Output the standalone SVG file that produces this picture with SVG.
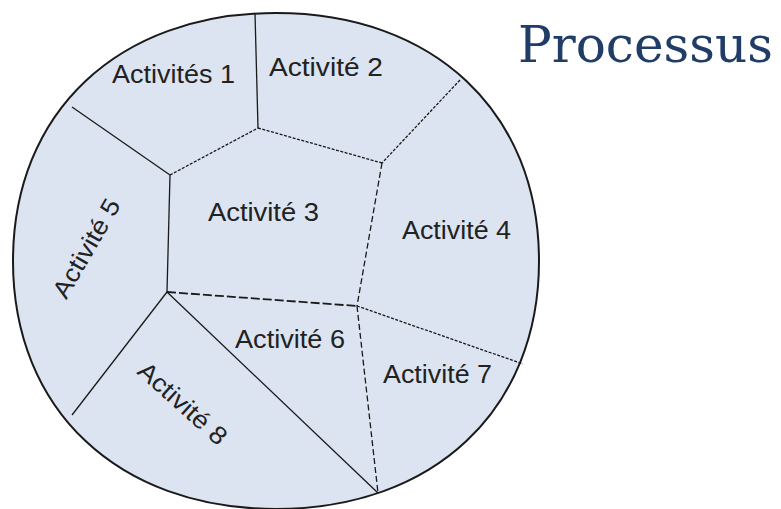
<svg xmlns="http://www.w3.org/2000/svg" width="781" height="509" viewBox="0 0 781 509">
<style>
.lbl{font-family:"Liberation Sans",Arial,sans-serif;font-size:25px;fill:#222}
.ln{stroke:#1a1a1a;stroke-width:1.3;fill:none}
.fine{stroke-dasharray:3 1.5}
.med{stroke-dasharray:6 3}
.long{stroke-dasharray:9 3;stroke-width:1.8}
.title{font-family:"DejaVu Serif","Liberation Serif",serif;font-size:51px;fill:#1f3d66}
</style>
<rect width="781" height="509" fill="#fff"/>
<g id="processus-circle">
<path d="M539,261 C539,409.8 433.8,509 276,509 C118.2,509 13,409.8 13,261 C13,112.2 118.2,13 276,13 C433.8,13 539,112.2 539,261 Z" fill="#dbe4f0" stroke="#1a1a1a" stroke-width="2"/>
</g>
<g id="connectors">
<line class="ln" x1="255" y1="13" x2="258" y2="128"/>
<line class="ln" x1="72" y1="107" x2="170" y2="175"/>
<line class="ln fine" x1="170" y1="175" x2="258" y2="128"/>
<line class="ln fine" x1="258" y1="128" x2="382" y2="163"/>
<line class="ln fine" x1="460" y1="80" x2="382" y2="163"/>
<line class="ln med" x1="382" y1="163" x2="357" y2="306"/>
<line class="ln" x1="170" y1="175" x2="167" y2="292"/>
<line class="ln long" x1="167" y1="292" x2="357" y2="306"/>
<line class="ln" x1="167" y1="292" x2="72" y2="415"/>
<line class="ln" x1="167" y1="292" x2="378" y2="493"/>
<line class="ln fine" x1="357" y1="306" x2="523" y2="364"/>
<line class="ln med" x1="357" y1="306" x2="378" y2="493"/>
</g>
<g id="activite-1"><text class="lbl" x="112" y="83" textLength="123" lengthAdjust="spacingAndGlyphs">Activités 1</text></g>
<g id="activite-2"><text class="lbl" x="269" y="76" textLength="114" lengthAdjust="spacingAndGlyphs">Activité 2</text></g>
<g id="activite-3"><text class="lbl" x="208" y="221" textLength="111" lengthAdjust="spacingAndGlyphs">Activité 3</text></g>
<g id="activite-4"><text class="lbl" x="402" y="239" textLength="109" lengthAdjust="spacingAndGlyphs">Activité 4</text></g>
<g id="activite-5"><text class="lbl" x="86" y="257" text-anchor="middle" textLength="110" lengthAdjust="spacingAndGlyphs" transform="rotate(-60 86 248)">Activité 5</text></g>
<g id="activite-6"><text class="lbl" x="235" y="348" textLength="110" lengthAdjust="spacingAndGlyphs">Activité 6</text></g>
<g id="activite-7"><text class="lbl" x="383" y="383" textLength="109" lengthAdjust="spacingAndGlyphs">Activité 7</text></g>
<g id="activite-8"><text class="lbl" x="183" y="412" text-anchor="middle" textLength="110" lengthAdjust="spacingAndGlyphs" transform="rotate(42 183 403)">Activité 8</text></g>
<g id="title"><text class="title" x="518" y="62" textLength="255" lengthAdjust="spacingAndGlyphs">Processus</text></g>
</svg>
